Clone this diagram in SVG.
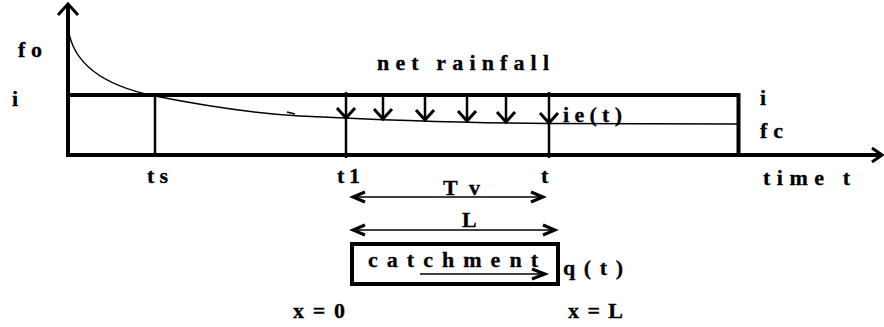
<svg xmlns="http://www.w3.org/2000/svg" width="884" height="327" viewBox="0 0 884 327">
<style>
text{font-family:"Liberation Serif","Times New Roman",serif;font-weight:bold;font-size:22px;fill:#000;stroke:#000;stroke-width:0.3}
.thick{stroke:#000;stroke-width:4;fill:none}
.mid{stroke:#000;stroke-width:2.5;fill:none}
.thin{stroke:#000;stroke-width:1.5;fill:none}
.head{stroke:#000;stroke-width:3;fill:none;stroke-linejoin:miter}
</style>
<rect width="884" height="327" fill="#fff"/>
<g id="axes">
<line class="thick" x1="68" y1="157" x2="68" y2="4" stroke-width="5"/>
<polyline class="head" points="58,15 68,4 78,15" stroke-width="4.5"/>
<line class="thick" x1="66" y1="155" x2="882" y2="155"/>
<polyline class="head" points="872,148 882,155 872,162" stroke-width="4.5"/>
</g>
<g id="rainfall-block">
<line class="thick" x1="68" y1="95" x2="740" y2="95"/>
<line class="thick" x1="738.5" y1="93" x2="738.5" y2="157" stroke-width="5"/>
<line class="mid" x1="155" y1="95" x2="155" y2="155" stroke-width="2"/>
<line class="mid" x1="346" y1="92" x2="346" y2="158"/>
<line class="mid" x1="549" y1="92" x2="549" y2="158"/>
</g>
<g id="infiltration-curve">
<path class="thin" d="M68,28 C72,58 95,84 155,96 C200,105 250,113 300,116 C380,120 470,123 549,123.5 L738,124"/>
<path class="thin" d="M287,112 L295,114" stroke-width="2"/>
</g>
<g id="rain-arrows">
<line class="mid" x1="383" y1="95" x2="383" y2="118"/>
<line class="mid" x1="425" y1="95" x2="425" y2="119"/>
<line class="mid" x1="467" y1="95" x2="467" y2="120"/>
<line class="mid" x1="506" y1="95" x2="506" y2="121"/>
<polyline class="head" points="337,108 346,118 355,108"/>
<polyline class="head" points="374,109 383,119 392,109"/>
<polyline class="head" points="416,110 425,120 434,110"/>
<polyline class="head" points="458,111 467,121 476,111"/>
<polyline class="head" points="497,112 506,122 515,112"/>
<polyline class="head" points="540,113 549,123 558,113"/>
</g>
<g id="dimensions">
<line class="thin" x1="353" y1="197" x2="542" y2="197"/>
<polyline class="head" points="365,192 353,197 365,202" stroke-width="2.5"/>
<polyline class="head" points="531,192 543,197 531,202" stroke-width="2.5"/>
<line class="thin" x1="353" y1="230" x2="554" y2="230"/>
<polyline class="head" points="365,225 353,230 365,235" stroke-width="2.5"/>
<polyline class="head" points="543,225 555,230 543,235" stroke-width="2.5"/>
</g>
<g id="catchment">
<rect x="352" y="244" width="206" height="40" class="thick"/>
<line class="thin" x1="420" y1="274" x2="544" y2="274"/>
<polyline class="head" points="532,269 545,274 532,279" stroke-width="2.5"/>
<text x="368" y="267" textLength="170" lengthAdjust="spacing">catchment</text>
</g>
<g id="labels">
<text x="18" y="57" textLength="24" lengthAdjust="spacing">fo</text>
<text x="12" y="106">i</text>
<text x="147" y="183" textLength="21" lengthAdjust="spacing">ts</text>
<text x="377" y="70" textLength="172" lengthAdjust="spacing">net rainfall</text>
<text x="337" y="183" textLength="23" lengthAdjust="spacing">t1</text>
<text x="541" y="183">t</text>
<text x="563" y="122" textLength="59" lengthAdjust="spacing">ie(t)</text>
<text x="760" y="105">i</text>
<text x="760" y="138" textLength="23" lengthAdjust="spacing">fc</text>
<text x="763" y="185" textLength="87" lengthAdjust="spacing">time t</text>
<text x="443" y="195" textLength="37" lengthAdjust="spacing">Tv</text>
<text x="462" y="227">L</text>
<text x="563" y="275" textLength="60" lengthAdjust="spacing">q(t)</text>
<text x="293" y="318" textLength="52" lengthAdjust="spacing">x = 0</text>
<text x="568" y="318" textLength="55" lengthAdjust="spacing">x = L</text>
</g>
</svg>
